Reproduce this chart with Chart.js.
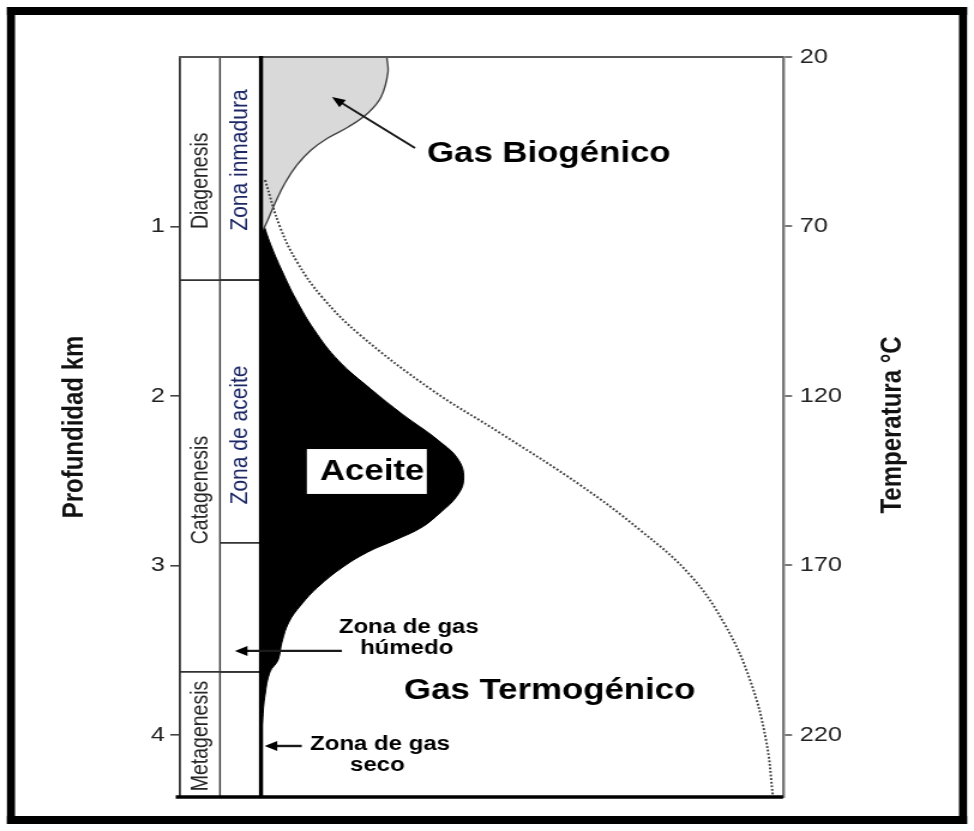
<!DOCTYPE html>
<html><head><meta charset="utf-8">
<script src="https://cdn.jsdelivr.net/npm/chart.js@4.4.1/dist/chart.umd.min.js"></script>
<style>html,body{margin:0;padding:0;background:#fff;overflow:hidden}</style>
</head><body>
<canvas id="c" width="812" height="831" style="display:block;width:974px;height:831px"></canvas>
<script>
// ---------- data ----------
const depthTicks = [1, 2, 3, 4];               // km
const tempTicks  = [20, 70, 120, 170, 220];    // °C
const depthRange = [0, 4.366];
const tempRange  = [20, 238.3];

const bioDepth  = [0, 0.094, 0.236, 0.330, 0.413, 0.478, 0.549, 0.637, 0.743, 0.861, 0.962, 1.02];
const bioAmount = [24.1, 24.3, 23.0, 20.5, 16.7, 12.8, 9.6, 6.9, 4.6, 2.7, 1.3, 0.4];

const oilDepth  = [0.97, 1.11, 1.26, 1.43, 1.61, 1.79, 1.96, 2.11, 2.26, 2.38, 2.50, 2.596, 2.684, 2.773, 2.850, 2.920, 3.009, 3.127, 3.233, 3.333, 3.451, 3.558, 3.628, 3.764, 3.912, 4.029];
const oilAmount = [0.3, 1.9, 4.0, 6.7, 10.2, 14.8, 21.1, 27.2, 33.9, 37.9, 38.8, 37.4, 34.5, 30.9, 25.7, 20.5, 15.7, 10.9, 7.66, 5.36, 4.02, 3.26, 1.72, 0.77, 0.29, 0];

const gasDepth  = [0.726, 1.003, 1.209, 1.416, 1.640, 1.965, 2.218, 2.525, 2.791, 3.056, 3.351, 3.676, 4.030, 4.366];
const gasAmount = [0.77, 3.64, 6.90, 11.69, 18.97, 32.76, 45.79, 61.11, 72.61, 82.18, 88.89, 93.68, 96.74, 98.08];

const stageNames  = ['Diagenesis', 'Catagenesis', 'Metagenesis'];
const stageBounds = [0, 1.316, 3.628, 4.366];
const zoneNames   = ['Zona inmadura', 'Zona de aceite', '', ''];
const zoneBounds  = [0, 1.316, 2.867, 3.628, 4.366];

const depthTitle = 'Profundidad km';
const tempTitle  = 'Temperatura °C';

// ---------- layout helpers (not data) ----------
const X_MIN = -15.53, COL_SPLIT = -7.86, X_MAX = 100;
const stageLabelDepth = [0.73, 2.555, 4.006];
const zoneLabelDepth  = [0.608, 2.23];
const FONT = '"Liberation Sans", Arial, Helvetica, sans-serif';

const pts = (xs, ys) => xs.map((v, i) => ({x: v, y: ys[i]}));

function drawArrow(ctx, x1, y1, x2, y2, len, half) {
  const a = Math.atan2(y2 - y1, x2 - x1);
  ctx.beginPath(); ctx.moveTo(x1, y1);
  ctx.lineTo(x2 - Math.cos(a) * len * 0.8, y2 - Math.sin(a) * len * 0.8); ctx.stroke();
  ctx.beginPath();
  ctx.moveTo(x2, y2);
  ctx.lineTo(x2 - Math.cos(a) * len + Math.sin(a) * half, y2 - Math.sin(a) * len - Math.cos(a) * half);
  ctx.lineTo(x2 - Math.cos(a) * len - Math.sin(a) * half, y2 - Math.sin(a) * len + Math.cos(a) * half);
  ctx.closePath(); ctx.fill();
}

const overlay = {
  id: 'overlay',
  beforeDraw(chart) {
    const ctx = chart.ctx;
    ctx.save();
    ctx.fillStyle = '#fff';
    ctx.fillRect(0, 0, chart.width, chart.height);
    ctx.fillStyle = '#000';
    const L = 5.8, R = 806.2, T = 7, B = 824, tw = 6.7, th = 8;
    ctx.fillRect(L, T, R - L, th);
    ctx.fillRect(L, B - th, R - L, th);
    ctx.fillRect(L, T, tw, B - T);
    ctx.fillRect(R - tw, T, tw, B - T);
    ctx.restore();
  },
  afterDatasetsDraw(chart) {
    const {ctx, scales: {x, y}} = chart;
    const X = v => x.getPixelForValue(v), Y = v => y.getPixelForValue(v);
    const xa = X(X_MIN), xs = X(COL_SPLIT), x0 = X(0), xr = X(X_MAX);
    const yTop = Y(depthRange[0]), yBot = Y(depthRange[1]);
    ctx.save();
    // column grid
    ctx.strokeStyle = '#333'; ctx.lineWidth = 1.4;
    ctx.beginPath(); ctx.moveTo(xs, yTop); ctx.lineTo(xs, yBot); ctx.stroke();
    ctx.lineWidth = 1.8;
    stageBounds.slice(1, -1).forEach(d => { ctx.beginPath(); ctx.moveTo(xa, Y(d)); ctx.lineTo(x0, Y(d)); ctx.stroke(); });
    zoneBounds.slice(1, -1).forEach(d => { ctx.beginPath(); ctx.moveTo(xs, Y(d)); ctx.lineTo(x0, Y(d)); ctx.stroke(); });
    // top line
    ctx.strokeStyle = '#555'; ctx.lineWidth = 2.2;
    ctx.beginPath(); ctx.moveTo(xa - 1, yTop); ctx.lineTo(xr, yTop); ctx.stroke();
    // bottom line
    ctx.strokeStyle = '#000'; ctx.lineWidth = 3.4;
    ctx.beginPath(); ctx.moveTo(xa - 3.5, yBot); ctx.lineTo(xr, yBot); ctx.stroke();
    // thick vertical axis at amount 0
    ctx.lineWidth = 3.4;
    ctx.beginPath(); ctx.moveTo(x0, yTop - 1); ctx.lineTo(x0, yBot); ctx.stroke();

    // rotated column labels
    const cA = (xa + xs) / 2, cB = (xs + x0) / 2;
    ctx.textAlign = 'center'; ctx.textBaseline = 'middle';
    stageNames.forEach((s, i) => {
      ctx.save(); ctx.translate(cA + 1, Y(stageLabelDepth[i])); ctx.rotate(-Math.PI / 2);
      ctx.font = '19.5px ' + FONT; ctx.fillStyle = '#262626'; ctx.fillText(s, 0, 0); ctx.restore();
    });
    zoneNames.forEach((s, i) => {
      if (!s) return;
      ctx.save(); ctx.translate(cB, Y(zoneLabelDepth[i])); ctx.rotate(-Math.PI / 2);
      ctx.font = '21px ' + FONT; ctx.fillStyle = '#1c2766'; ctx.fillText(s, 0, 0); ctx.restore();
    });

    // annotations
    ctx.fillStyle = '#000'; ctx.strokeStyle = '#1a1a1a';
    ctx.textBaseline = 'alphabetic';
    ctx.font = 'bold 29px ' + FONT; ctx.textAlign = 'left';
    ctx.fillText('Gas Biogénico', X(31.8), Y(0.619));
    ctx.fillText('Gas Termogénico', X(27.4), Y(3.788));
    // Aceite box
    ctx.fillStyle = '#fff';
    ctx.fillRect(X(8.78), Y(2.313), X(31.76) - X(8.78), Y(2.578) - Y(2.313));
    ctx.fillStyle = '#000';
    ctx.fillText('Aceite', X(11.28), Y(2.496));
    // small labels
    ctx.font = 'bold 20px ' + FONT; ctx.textAlign = 'center';
    ctx.fillText('Zona de gas', X(28.3), Y(3.398));
    ctx.fillText('húmedo', X(27.9), Y(3.522));
    ctx.fillText('Zona de gas', X(22.8), Y(4.088));
    ctx.fillText('seco', X(22.3), Y(4.212));
    // arrows
    ctx.lineWidth = 2.4;
    drawArrow(ctx, X(15.5), Y(3.504), X(-5.0), Y(3.504), 10.5, 5);
    drawArrow(ctx, X(7.8), Y(4.065), X(0.7), Y(4.065), 10.5, 5);
    ctx.lineWidth = 2;
    drawArrow(ctx, X(29.5), Y(0.537), X(13.6), Y(0.236), 11, 4.5);

    // right axis title (reads bottom to top)
    ctx.save();
    ctx.translate(744, (yTop + yBot) / 2 - 2); ctx.rotate(-Math.PI / 2);
    ctx.font = 'bold 24px ' + FONT; ctx.fillStyle = '#111'; ctx.textAlign = 'center'; ctx.textBaseline = 'middle';
    ctx.fillText(tempTitle, 0, 0);
    ctx.restore();
    ctx.restore();
  }
};

Chart.defaults.font.family = FONT;

new Chart(document.getElementById('c'), {
  type: 'line',
  data: {
    datasets: [
      { label: 'Gas termogénico', data: pts(gasAmount, gasDepth), borderColor: '#444', borderWidth: 2,
        borderDash: [1.8, 1.8], fill: false, pointRadius: 0, tension: 0.4 },
      { label: 'Gas biogénico', data: pts(bioAmount, bioDepth), borderColor: '#444', borderWidth: 1.4,
        backgroundColor: '#d9d9d9', fill: {value: 0}, pointRadius: 0, tension: 0.4 },
      { label: 'Aceite', data: pts(oilAmount, oilDepth), borderColor: '#000', borderWidth: 1,
        backgroundColor: '#000', fill: {value: 0}, pointRadius: 0, tension: 0.4 }
    ]
  },
  options: {
    indexAxis: 'y',
    responsive: false,
    animation: false,
    devicePixelRatio: 1,
    layout: { padding: { top: 57, bottom: 34, left: 0, right: 0 } },
    plugins: { legend: { display: false }, tooltip: { enabled: false } },
    scales: {
      x: { type: 'linear', axis: 'x', display: false, min: X_MIN, max: X_MAX },
      y: {
        type: 'linear', axis: 'y', position: 'left', reverse: true,
        min: depthRange[0], max: depthRange[1],
        afterBuildTicks: s => { s.ticks = depthTicks.map(v => ({value: v})); },
        afterFit: s => { s.width = 150; },
        grid: { drawOnChartArea: false, drawTicks: true, tickLength: 8, color: '#444', lineWidth: 1.6 },
        border: { display: true, color: '#333', width: 1.8 },
        ticks: { color: '#222', padding: 4.5, font: { size: 21 } },
        title: { display: true, text: depthTitle, color: '#111', padding: { top: 48, bottom: 0 },
                 font: { size: 24, weight: 'bold' } }
      },
      yT: {
        type: 'linear', axis: 'y', position: 'right', reverse: true,
        min: tempRange[0], max: tempRange[1],
        afterBuildTicks: s => { s.ticks = tempTicks.map(v => ({value: v})); },
        afterFit: s => { s.width = 159.2; },
        grid: { drawOnChartArea: false, drawTicks: true, tickLength: 7.5, color: '#777', lineWidth: 2 },
        border: { display: true, color: '#777', width: 2.4 },
        ticks: { color: '#222', padding: 6.5, font: { size: 21 } },
        title: { display: false }
      }
    }
  },
  plugins: [overlay]
});
</script>
</body></html>
